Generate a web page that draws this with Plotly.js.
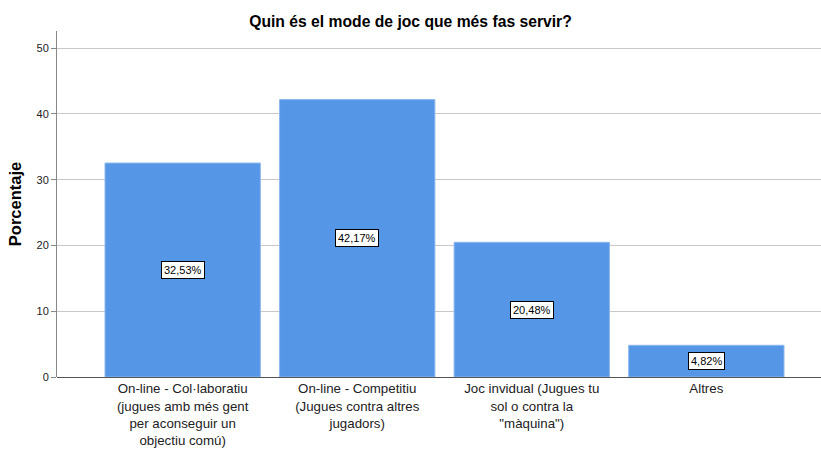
<!DOCTYPE html>
<html><head><meta charset="utf-8">
<script src="https://cdn.plot.ly/plotly-3.0.1.min.js"></script>
<style>body{margin:0;padding:0;background:#fff}#c{width:821px;height:450px}</style>
</head><body><div id="c"></div>
<script>
var categories = [
  "On-line - Col·laboratiu<br>(jugues amb més gent<br>per aconseguir un<br>objectiu comú)",
  "On-line - Competitiu<br>(Jugues contra altres<br>jugadors)",
  "Joc invidual (Jugues tu<br>sol o contra la<br>\"màquina\")",
  "Altres"
];
var values = [32.53, 42.17, 20.48, 4.82];
var valueLabels = ["32,53%", "42,17%", "20,48%", "4,82%"];
var yTicks = [0, 10, 20, 30, 40, 50];

var FONT = 'Liberation Sans, Arial, sans-serif';
var xpos = categories.map(function(c, i){ return i; });
var trace = {
  type: 'bar',
  x: xpos,
  y: values,
  marker: {color: '#5596E6', line: {color: '#8DB8EE', width: 1}},
  width: 0.89,
  hoverinfo: 'none'
};
var annotations = values.map(function(v,i){
  return {x: i, y: v/2, xref: 'x', yref: 'y', text: valueLabels[i], showarrow: false,
    font: {family: FONT, size: 11, color: '#000'},
    bgcolor: '#fff', bordercolor: '#000', borderwidth: 1, borderpad: 2};
});
var layout = {
  width: 821, height: 450,
  margin: {l: 57, r: 0, t: 31, b: 73},
  paper_bgcolor: '#fff', plot_bgcolor: '#fff',
  showlegend: false,
  title: {text: '<b>Quin és el mode de joc que més fas servir?</b>', x: 0.5, xanchor: 'center', y: 0.953, yanchor: 'middle',
    font: {family: FONT, size: 15.7, color: '#000'}},
  xaxis: {
    range: [-0.72, 3.657], tickmode: 'array', tickvals: xpos, ticktext: categories,
    ticklabelstandoff: 2,
    showgrid: false, zeroline: false, showline: false, ticks: '',
    tickfont: {family: FONT, size: 13.3, color: '#222'}
  },
  yaxis: {
    range: [0, 52.6], tickmode: 'array', tickvals: yTicks, ticktext: yTicks.map(String),
    showgrid: true, gridcolor: '#C8C8C8', gridwidth: 1,
    zeroline: true, zerolinecolor: '#555', zerolinewidth: 1,
    showline: true, linecolor: '#888', linewidth: 1,
    ticks: 'outside', ticklen: 5, tickcolor: '#888',
    tickfont: {family: FONT, size: 11, color: '#222'},
    title: {text: '<b>Porcentaje</b>', standoff: 10, font: {family: FONT, size: 16.5, color: '#000'}}
  },
  annotations: annotations
};
Plotly.newPlot('c', [trace], layout, {displayModeBar: false, staticPlot: true});
</script></body></html>
